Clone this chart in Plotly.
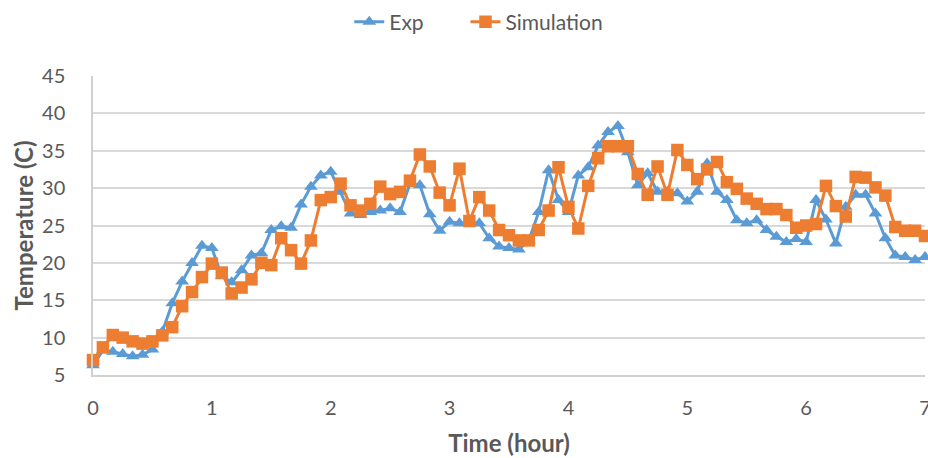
import plotly.graph_objects as go

time_hours = [i / 12 for i in range(85)]

exp_temp = [6.3, 8.3, 8.1, 7.8, 7.5, 7.7, 8.4, 10.8, 14.6, 17.5,
            20.0, 22.3, 22.0, 18.2, 17.4, 19.0, 21.0, 21.3, 24.4, 24.9,
            24.7, 27.8, 30.2, 31.7, 32.2, 29.5, 26.6, 26.4, 26.8, 27.0,
            27.3, 26.8, 30.6, 30.4, 26.5, 24.3, 25.5, 25.3, 25.3, 25.3,
            23.3, 22.2, 22.0, 21.8, 23.0, 26.8, 32.4, 28.4, 26.8, 31.7,
            32.8, 35.7, 37.5, 38.3, 34.8, 30.4, 32.0, 29.5, 29.5, 29.3,
            28.2, 29.5, 33.3, 29.5, 28.4, 25.7, 25.3, 25.7, 24.4, 23.5,
            22.8, 23.2, 22.8, 28.4, 25.8, 22.6, 27.5, 29.1, 29.1, 26.6,
            23.3, 21.0, 20.8, 20.4, 20.8]

sim_temp = [7.0, 8.7, 10.35, 10.0, 9.5, 9.2, 9.5, 10.3, 11.4, 14.2,
            16.1, 18.1, 19.9, 18.7, 15.9, 16.7, 17.8, 20.0, 19.7, 23.3,
            21.7, 19.9, 23.0, 28.4, 28.8, 30.6, 27.7, 27.0, 27.9, 30.2,
            29.2, 29.5, 31.0, 34.5, 32.9, 29.4, 27.7, 32.6, 25.6, 28.8,
            27.0, 24.4, 23.7, 23.0, 23.0, 24.4, 27.0, 32.8, 27.5, 24.6,
            30.3, 34.0, 35.6, 35.6, 35.6, 31.9, 29.1, 32.9, 29.1, 35.1,
            33.1, 31.2, 32.5, 33.5, 30.8, 29.9, 28.6, 27.9, 27.2, 27.2,
            26.4, 24.7, 25.0, 25.2, 30.3, 27.6, 26.2, 31.5, 31.4, 30.1,
            29.0, 24.8, 24.3, 24.3, 23.6]

x_ticks = [0, 1, 2, 3, 4, 5, 6, 7]
y_ticks = [5, 10, 15, 20, 25, 30, 35, 40, 45]

BLUE = "#5B9BD5"
ORANGE = "#ED7D31"
GRAY = "#595959"
FONT = "Lato, Open Sans, sans-serif"

fig = go.Figure()
fig.add_trace(go.Scatter(
    x=time_hours, y=exp_temp, name="Exp" + "\u2002\u2002\u2002\u00a0", mode="lines+markers",
    line=dict(color=BLUE, width=3),
    marker=dict(symbol="triangle-up", size=12, color=BLUE),
    cliponaxis=False,
))
fig.add_trace(go.Scatter(
    x=time_hours, y=sim_temp, name="Simulation", mode="lines+markers",
    line=dict(color=ORANGE, width=3),
    marker=dict(symbol="square", size=12.5, color=ORANGE),
    cliponaxis=False,
))

fig.update_layout(
    width=928, height=458,
    margin=dict(l=93, r=3, t=76, b=83, autoexpand=False),
    paper_bgcolor="white", plot_bgcolor="white",
    font=dict(family=FONT, color=GRAY, size=20),
    legend=dict(orientation="h", x=0.308, xanchor="left",
                y=1.18, yanchor="middle", font=dict(size=21, color=GRAY)),
    xaxis=dict(
        range=[0, 7], tickvals=x_ticks, ticks="", showgrid=False,
        zeroline=False, showline=True, linecolor="#d0d0d0", linewidth=1.5,
        automargin=False,
        ticklabelstandoff=14, ticklabeloverflow="allow",
        tickfont=dict(size=20, color=GRAY),
        title=dict(text="<b>Time (hour)</b>", font=dict(size=24, color=GRAY), standoff=17),
    ),
    yaxis=dict(
        range=[5, 45], tickvals=y_ticks, ticks="", showgrid=True,
        gridcolor="#d9d9d9", gridwidth=1.5, zeroline=False,
        showline=True, linecolor="#d0d0d0", linewidth=1.5,
        automargin=False,
        ticklabelstandoff=22, tickfont=dict(size=20, color=GRAY),
        title=dict(text="<b>Temperature (C)</b>", font=dict(size=24, color=GRAY), standoff=2),
    ),
)

fig.write_html("out.html")
